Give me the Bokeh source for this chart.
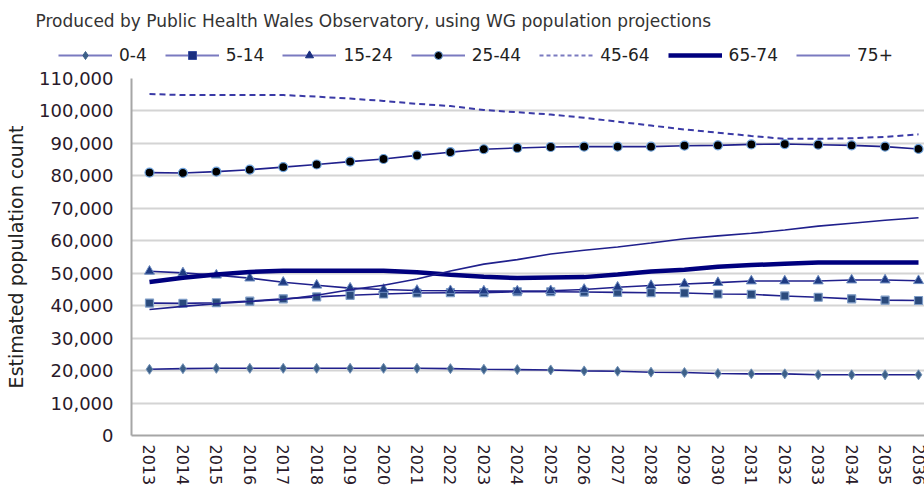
from bokeh.plotting import figure
from bokeh.layouts import column, row
from bokeh.models import (ColumnDataSource, Legend, LegendItem, Label,
                          NumeralTickFormatter, FixedTicker, Range1d)
from bokeh.embed import file_html
from bokeh.resources import INLINE

years = list(range(2013, 2037))

age_0_4 = [20400, 20600, 20700, 20700, 20700, 20700, 20700, 20700, 20700, 20600,
           20400, 20300, 20200, 19900, 19800, 19500, 19400, 19100, 19000, 19000,
           18700, 18700, 18700, 18700]
age_5_14 = [40800, 40700, 40900, 41400, 42100, 42700, 43200, 43600, 43900, 44000,
            44000, 44300, 44300, 44200, 44100, 44000, 43900, 43600, 43500, 43000,
            42600, 42100, 41700, 41600]
age_15_24 = [50600, 50100, 49400, 48500, 47200, 46300, 45400, 45000, 44700, 44600,
             44500, 44500, 44600, 45000, 45700, 46200, 46700, 47100, 47600, 47600,
             47600, 47900, 47900, 47700]
age_25_44 = [81000, 80900, 81300, 81900, 82700, 83500, 84400, 85200, 86300, 87300,
             88200, 88600, 88900, 89000, 89000, 89000, 89300, 89400, 89700, 89800,
             89600, 89400, 89000, 88300]
age_45_64 = [105200, 104900, 104900, 104900, 104900, 104400, 103800, 103100, 102200, 101500,
             100300, 99600, 98900, 97900, 96700, 95500, 94300, 93300, 92300, 91400,
             91400, 91600, 92000, 92800]
age_65_74 = [47300, 48600, 49600, 50400, 50800, 50800, 50800, 50800, 50300, 49500,
             48900, 48500, 48700, 48800, 49600, 50500, 51100, 52000, 52500, 52900,
             53300, 53300, 53300, 53300]
age_75_plus = [38800, 39800, 40600, 41300, 41900, 43200, 44900, 46300, 48200, 50700,
               52800, 54200, 55900, 57100, 58100, 59300, 60600, 61500, 62300, 63300,
               64500, 65400, 66300, 67100]

series_names = ["0-4", "5-14", "15-24", "25-44", "45-64", "65-74", "75+"]
y_ticks = list(range(0, 110001, 10000))

title_text = "Produced by Public Health Wales Observatory, using WG population projections"
y_label = "Estimated population count"

FONT = "DejaVu Sans"
LINE = "#20208c"
LEG_LINE = "#7a7ac0"

src = ColumnDataSource(dict(x=years, a=age_0_4, b=age_5_14, c=age_15_24, d=age_25_44,
                            e=age_45_64, f=age_65_74, g=age_75_plus))
# legend-only proxies: one undrawable (NaN) point so the legend has a row to style
proxy = ColumnDataSource(dict(x=[float("nan")], y=[float("nan")]))

# ---------- header: title + legend ----------
head = figure(width=924, height=66, output_backend="svg", toolbar_location=None,
              x_range=Range1d(0, 1), y_range=Range1d(0, 1),
              x_axis_type=None, y_axis_type=None,
              min_border=0, min_border_left=0, min_border_right=0,
              min_border_top=0, min_border_bottom=0)
head.outline_line_color = None
head.xgrid.visible = False
head.ygrid.visible = False

head.add_layout(Label(x=35, y=46, x_units="screen", y_units="screen", text=title_text,
                      text_font=FONT, text_font_size="17px", text_color="#333333",
                      text_baseline="middle"))

l0 = head.line("x", "y", source=proxy, color=LEG_LINE, line_width=2)
m0 = head.scatter("x", "y", source=proxy, marker="diamond", size=9, fill_color="#3d6088",
                  line_color="#3d6088")
l1 = head.line("x", "y", source=proxy, color=LEG_LINE, line_width=2)
m1 = head.scatter("x", "y", source=proxy, marker="square", size=6, fill_color="#1a2f80",
                  line_color="#3a4fa0")
l2 = head.line("x", "y", source=proxy, color=LEG_LINE, line_width=2)
m2 = head.scatter("x", "y", source=proxy, marker="triangle", size=7, fill_color="#1a2f80",
                  line_color="#1a2f80")
l3 = head.line("x", "y", source=proxy, color=LEG_LINE, line_width=2)
m3 = head.scatter("x", "y", source=proxy, marker="circle", size=8, fill_color="black",
                  line_color="#6fa3dc")
l4 = head.line("x", "y", source=proxy, color=LEG_LINE, line_width=2, line_dash="4 3")
l5 = head.line("x", "y", source=proxy, color="#00007e", line_width=4.5)
l6 = head.line("x", "y", source=proxy, color=LEG_LINE, line_width=2)

items = [LegendItem(label=series_names[0], renderers=[l0, m0]),
         LegendItem(label=series_names[1], renderers=[l1, m1]),
         LegendItem(label=series_names[2], renderers=[l2, m2]),
         LegendItem(label=series_names[3], renderers=[l3, m3]),
         LegendItem(label=series_names[4], renderers=[l4]),
         LegendItem(label=series_names[5], renderers=[l5]),
         LegendItem(label=series_names[6], renderers=[l6])]
legend = Legend(items=items, orientation="horizontal", location=(58, 1),
                glyph_width=54, glyph_height=20, label_standoff=7, spacing=18,
                padding=0, margin=0, border_line_color=None,
                background_fill_alpha=0, label_text_font=FONT,
                label_text_font_size="17px", label_text_color="#222222",
                label_height=20)
head.add_layout(legend, "center")

# ---------- main chart ----------
p = figure(width=924, height=424, output_backend="svg", toolbar_location=None,
           x_range=Range1d(2012.4617, 2036.179), y_range=Range1d(0, 110000),
           min_border_left=131, min_border_top=12, min_border_bottom=55,
           min_border_right=0)
p.outline_line_color = None
p.background_fill_color = "white"
p.border_fill_color = "white"

p.line("x", "a", source=src, color=LINE, line_width=1.6)
p.scatter("x", "a", source=src, marker="diamond", size=10, fill_color="#3d6088",
          line_color="#6f8fb5", line_width=1)
p.line("x", "b", source=src, color=LINE, line_width=1.6)
p.scatter("x", "b", source=src, marker="square", size=8, fill_color="#2a4a7c",
          line_color="#7e9cc6", line_width=1.2)
p.line("x", "c", source=src, color=LINE, line_width=1.6)
p.scatter("x", "c", source=src, marker="triangle", size=10, fill_color="#1e3a82",
          line_color="#6d8cc0", line_width=1)
p.line("x", "d", source=src, color=LINE, line_width=1.6)
p.scatter("x", "d", source=src, marker="circle", size=9, fill_color="black",
          line_color="#6fa3dc", line_width=1.2)
p.line("x", "e", source=src, color="#3a3aa6", line_width=2, line_dash="6 4")
p.line("x", "f", source=src, color="#00007e", line_width=4.5)
p.line("x", "g", source=src, color=LINE, line_width=1.6)

p.yaxis.ticker = FixedTicker(ticks=y_ticks)
p.yaxis.formatter = NumeralTickFormatter(format="0,0")
p.xaxis.ticker = FixedTicker(ticks=years)
p.xaxis.major_label_orientation = "vertical"
for ax in (p.xaxis, p.yaxis):
    ax.major_label_text_font = FONT
    ax.major_label_text_color = "#2a1a2a"
    ax.axis_line_color = "#a6a6a6"
    ax.axis_line_width = 2
    ax.major_tick_line_color = None
    ax.minor_tick_line_color = None
    ax.major_tick_in = 0
    ax.major_tick_out = 0
p.yaxis.major_label_text_font_size = "18px"
p.xaxis.major_label_text_font_size = "16px"
p.yaxis.major_label_standoff = 18
p.xaxis.major_label_standoff = 9
p.yaxis.axis_label = y_label
p.yaxis.axis_label_text_font = FONT
p.yaxis.axis_label_text_font_size = "19px"
p.yaxis.axis_label_text_font_style = "normal"
p.yaxis.axis_label_text_color = "#222222"
p.yaxis.axis_label_standoff = 9

p.xgrid.grid_line_color = None
p.ygrid.ticker = FixedTicker(ticks=y_ticks)
p.ygrid.grid_line_color = "#d4d4d4"
p.ygrid.grid_line_width = 2

layout = column(row(head), p, spacing=0)
open("out.html", "w").write(file_html(layout, INLINE))
